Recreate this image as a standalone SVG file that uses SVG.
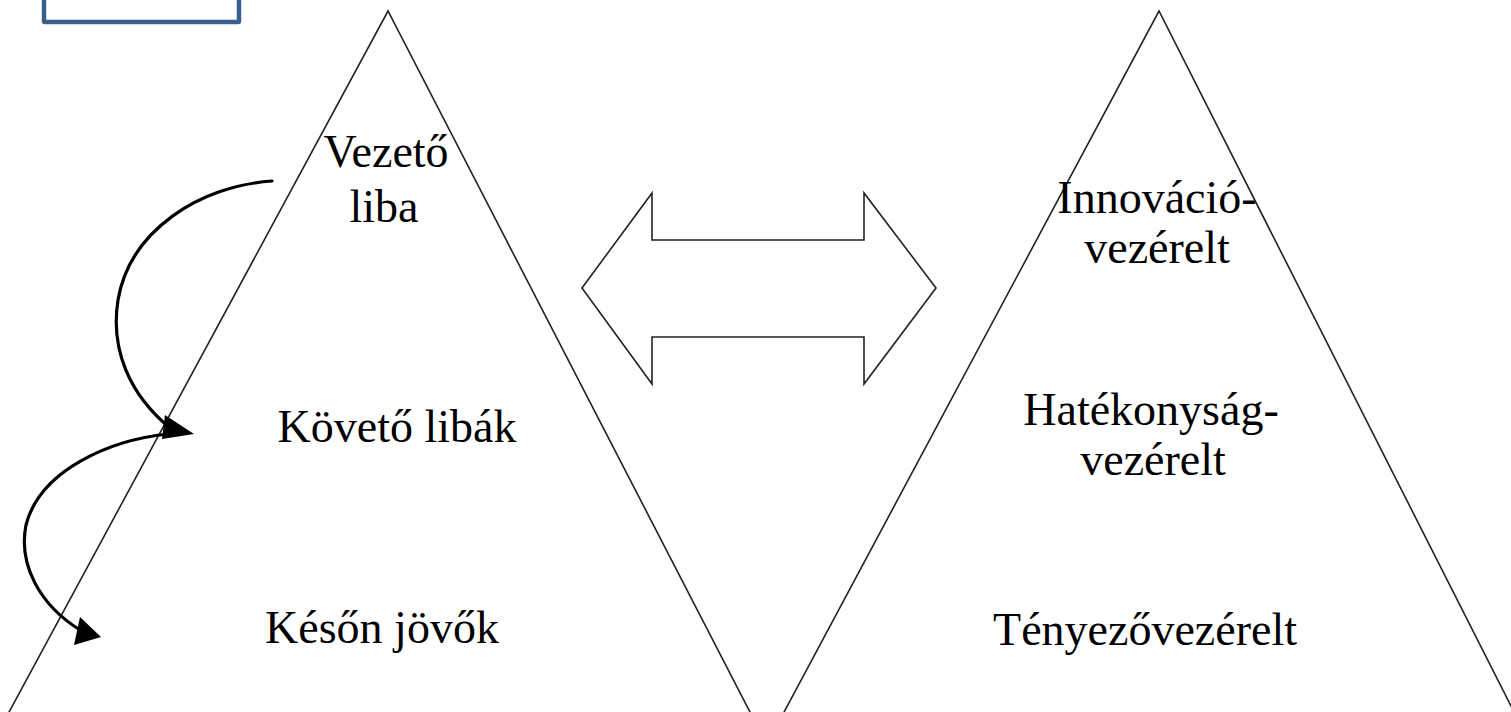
<svg xmlns="http://www.w3.org/2000/svg" width="1511" height="712" viewBox="0 0 1511 712">
<style>
.tri{fill:none;stroke:#222;stroke-width:1.6;stroke-linejoin:miter}
.lbl{font-family:"Liberation Serif","Times New Roman",serif;font-size:46px;fill:#000;text-anchor:middle}
.curve{fill:none;stroke:#000;stroke-width:3.2;stroke-linecap:round}
.head{fill:#000;stroke:none}
</style>
<rect width="1511" height="712" fill="#fff"/>
<g id="box"><rect x="44" y="-10" width="195" height="32" fill="none" stroke="#3b5f8d" stroke-width="4.5" rx="1"/></g>
<g id="left-pyramid">
<polyline class="tri" points="8,714 388,11 751,714"/>
<text class="lbl" x="386" y="167">Vezető</text>
<text class="lbl" x="384" y="222">liba</text>
<text class="lbl" x="397" y="442">Követő libák</text>
<text class="lbl" x="382" y="643">Későn jövők</text>
</g>
<g id="right-pyramid">
<polyline class="tri" points="783,714 1159,11 1515,714"/>
<text class="lbl" x="1157" y="213">Innováció-</text>
<text class="lbl" x="1157" y="263">vezérelt</text>
<text class="lbl" x="1151" y="425">Hatékonyság-</text>
<text class="lbl" x="1153" y="475">vezérelt</text>
<text class="lbl" x="1145" y="645">Tényezővezérelt</text>
</g>
<g id="double-arrow">
<polygon points="582,288 652,193 652,240 864,240 864,193 936,288 864,384 864,337 652,337 652,384" fill="#fff" stroke="#222" stroke-width="1.6"/>
</g>
<g id="connectors">
<path class="curve" d="M272,181 C200,186 130,230 118,300 C110,350 130,395 170,428"/>
<polygon class="head" points="165,415 194,434 162,439"/>
<path class="curve" d="M168,434 C110,440 40,470 26,525 C18,565 40,605 80,630"/>
<polygon class="head" points="80,617 101,637 74,645"/>
</g>
</svg>
